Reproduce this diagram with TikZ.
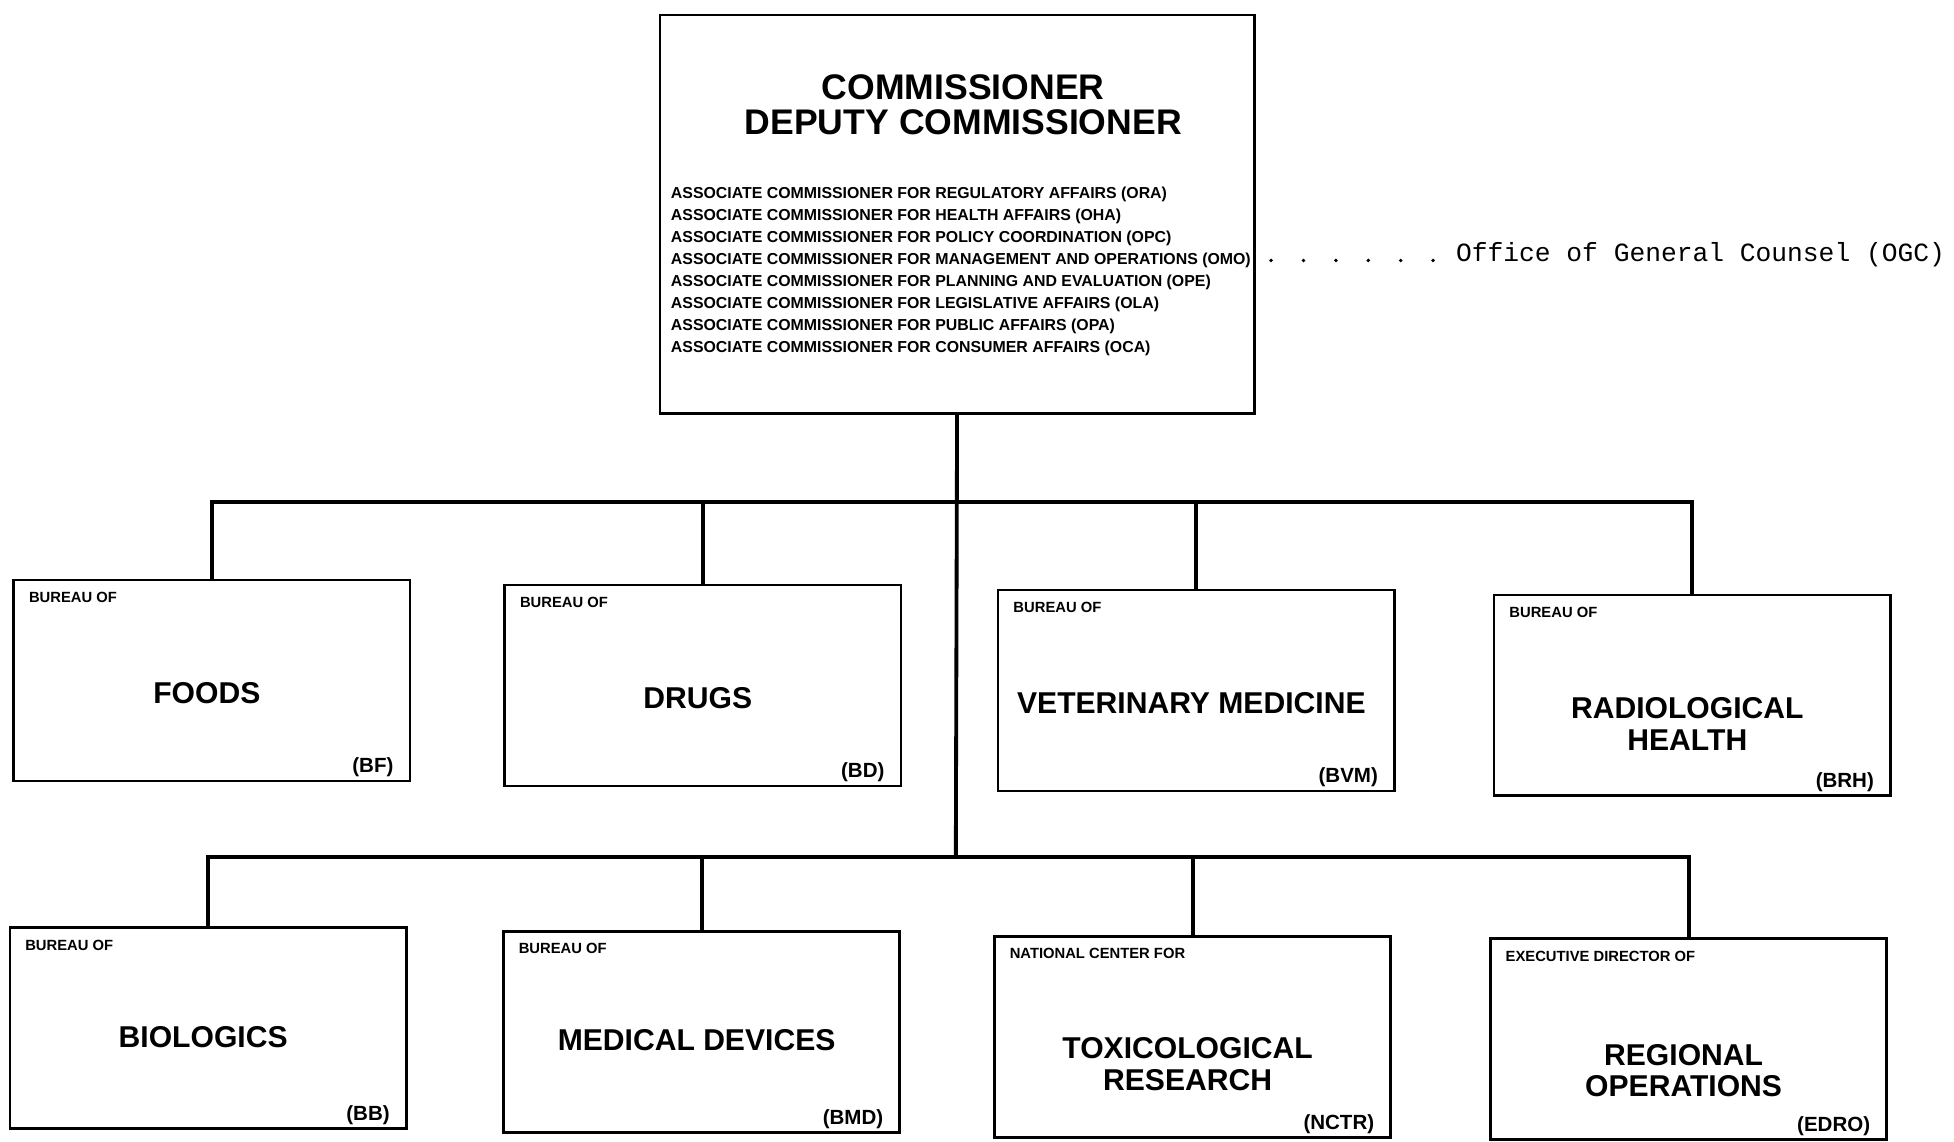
\documentclass[tikz,border=0pt]{standalone}
\usepackage{fontspec}
\setmainfont{Liberation Sans}
\setmonofont{Liberation Mono}
\usetikzlibrary{calc}
\begin{document}
\begin{tikzpicture}[x=0.16mm, y=0.16mm,
                unitbox/.style={draw, line width=1pt, minimum width=50.9mm, minimum height=25.8mm, inner sep=0pt},
                tiny/.style={font=\bfseries\fontsize{5.4}{6}\selectfont, inner sep=0pt},
                unitname/.style={font=\bfseries\fontsize{11}{11.5}\selectfont, align=center, inner sep=0pt},
                unitcode/.style={font=\bfseries\fontsize{7.5}{8}\selectfont, inner sep=0pt, anchor=east},
                link/.style={line width=1.4pt}]
                \useasboundingbox (0,0) rectangle (1568,-916);

                % commissioner and associates
                \node at (768,-172)[unitbox, minimum width=76.3mm, minimum height=51.2mm] (top){};
                \node at (773,-84)[font=\bfseries\fontsize{13}{12.5}\selectfont, align=center, inner sep=0pt] (chief){COMMISSIONER\\DEPUTY COMMISSIONER};
                \foreach \t [count=\i] in {REGULATORY AFFAIRS (ORA), HEALTH AFFAIRS (OHA), POLICY COORDINATION (OPC),
                    MANAGEMENT AND OPERATIONS (OMO), PLANNING AND EVALUATION (OPE), LEGISLATIVE AFFAIRS (OLA),
                    PUBLIC AFFAIRS (OPA), CONSUMER AFFAIRS (OCA)}
                    {
                        \node at (538,{-156-(\i-1)*17.6})[tiny, font=\bfseries\fontsize{5.8}{6}\selectfont, anchor=west] (assoc\i){ASSOCIATE COMMISSIONER FOR \t};
                    }

                % counsel
                \node at (1168,-204)[font=\ttfamily\fontsize{9.6}{10}\selectfont, anchor=west, inner sep=0pt] (ogc){Office of General Counsel (OGC)};
                \coordinate (lead) at (1020,-209);
                \draw[line width=1.4pt, line cap=round, dash pattern=on 0pt off 4.16mm] (lead) -- (lead -| ogc.west);

                % bureaus and centers
                \foreach \n/\x/\y/\pre/\title/\dy/\code in {
                    bf/170/546/BUREAU OF/FOODS/10/BF,
                    bd/564/550/BUREAU OF/DRUGS/10/BD,
                    bvm/960/554/BUREAU OF/VETERINARY MEDICINE/10/BVM,
                    brh/1358/558/BUREAU OF/RADIOLOGICAL\\HEALTH/23/BRH,
                    bb/167/825/BUREAU OF/BIOLOGICS/7/BB,
                    bmd/563/828/BUREAU OF/MEDICAL DEVICES/7/BMD,
                    nctr/957/832/NATIONAL CENTER FOR/TOXICOLOGICAL\\RESEARCH/22/NCTR,
                    edro/1355/834/EXECUTIVE DIRECTOR OF/REGIONAL\\OPERATIONS/25/EDRO}
                    {
                        \node at (\x,-\y)[unitbox] (\n){};
                        \node at ($(\n.north west)+(13,-15)$)[tiny, anchor=west] (\n-pre){\pre};
                        \node at (\x-4,-\y-\dy)[unitname] (\n-name){\title};
                        \node at ($(\n.south east)+(-14,12)$)[unitcode] (\n-code){(\code)};
                    }

                % lines
                \coordinate (upper) at (767,-403);
                \coordinate (lower) at (767,-688);
                \draw[link] (top.south) -- (lower);
                \draw[link] (bf.north) -- (bf.north |- upper) -- (brh.north |- upper) -- (brh.north);
                \draw[link] (bb.north) -- (bb.north |- lower) -- (edro.north |- lower) -- (edro.north);
                \foreach \n in {bd,bvm}
                    {
                        \draw[link] (\n.north) -- (\n.north |- upper);
                    }
                \foreach \n in {bmd,nctr}
                    {
                        \draw[link] (\n.north) -- (\n.north |- lower);
                    }
            \end{tikzpicture}
\end{document}
